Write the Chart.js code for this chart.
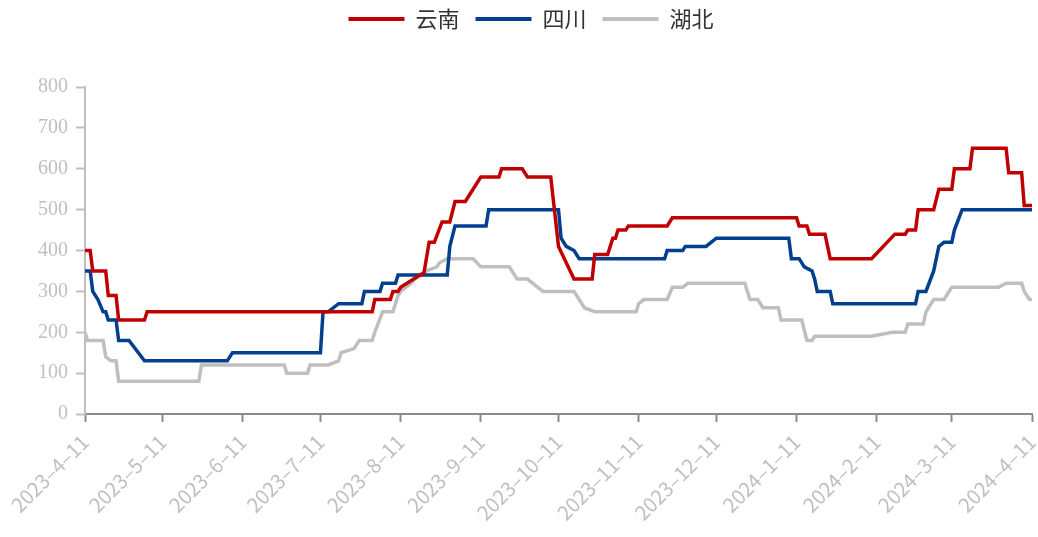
<!DOCTYPE html>
<html>
<head>
<meta charset="utf-8">
<script src="https://cdn.jsdelivr.net/npm/chart.js@4"></script>
<style>
  html, body { margin: 0; padding: 0; background: #fff; }
  #wrap { width: 1038px; height: 537px; }
</style>
</head>
<body>
<div id="wrap"><canvas id="chart"></canvas></div>
<script>
// x 轴刻度 (每月11日)
const tickDates = ['2023-04-11','2023-05-11','2023-06-11','2023-07-11','2023-08-11','2023-09-11','2023-10-11','2023-11-11','2023-12-11','2024-01-11','2024-02-11','2024-03-11','2024-04-11'];
const tickLabels = ['2023–4–11','2023–5–11','2023–6–11','2023–7–11','2023–8–11','2023–9–11','2023–10–11','2023–11–11','2023–12–11','2024–1–11','2024–2–11','2024–3–11','2024–4–11'];

// 云南
const yunnanDates = ['2023-04-11','2023-04-13','2023-04-14','2023-04-19','2023-04-20','2023-04-23','2023-04-24','2023-05-04','2023-05-05','2023-07-31','2023-08-01','2023-08-07','2023-08-08','2023-08-10','2023-08-11','2023-08-16','2023-08-20','2023-08-22','2023-08-24','2023-08-27','2023-08-30','2023-09-01','2023-09-05','2023-09-07','2023-09-11','2023-09-18','2023-09-19','2023-09-27','2023-09-29','2023-10-08','2023-10-11','2023-10-14','2023-10-17','2023-10-24','2023-10-25','2023-10-30','2023-11-01','2023-11-02','2023-11-03','2023-11-06','2023-11-07','2023-11-22','2023-11-24','2024-01-11','2024-01-12','2024-01-15','2024-01-16','2024-01-22','2024-01-24','2024-02-09','2024-02-18','2024-02-22','2024-02-23','2024-02-26','2024-02-27','2024-03-04','2024-03-06','2024-03-11','2024-03-12','2024-03-18','2024-03-19','2024-04-01','2024-04-02','2024-04-07','2024-04-08','2024-04-11'];
const yunnanValues = [400,400,350,350,290,290,230,230,250,250,280,280,300,300,310,330,345,420,420,470,470,520,520,540,580,580,600,600,580,580,410,370,330,330,390,390,430,430,450,450,460,460,480,480,460,460,440,440,380,380,440,440,450,450,500,500,550,550,600,600,650,650,590,590,510,510];

// 四川
const sichuanDates = ['2023-04-11','2023-04-13','2023-04-14','2023-04-16','2023-04-18','2023-04-19','2023-04-20','2023-04-23','2023-04-24','2023-04-28','2023-05-04','2023-06-05','2023-06-07','2023-07-11','2023-07-12','2023-07-14','2023-07-18','2023-07-27','2023-07-28','2023-08-03','2023-08-04','2023-08-09','2023-08-10','2023-08-29','2023-08-30','2023-09-01','2023-09-13','2023-09-14','2023-10-11','2023-10-12','2023-10-14','2023-10-17','2023-10-19','2023-11-21','2023-11-22','2023-11-28','2023-11-29','2023-12-07','2023-12-11','2024-01-08','2024-01-09','2024-01-12','2024-01-14','2024-01-17','2024-01-18','2024-01-19','2024-01-24','2024-01-25','2024-02-26','2024-02-27','2024-03-01','2024-03-04','2024-03-06','2024-03-08','2024-03-11','2024-03-12','2024-03-15','2024-04-11'];
const sichuanValues = [350,350,300,280,250,250,230,230,180,180,130,130,150,150,250,250,270,270,300,300,320,320,340,340,410,460,460,500,500,430,410,400,380,380,400,400,410,410,430,430,380,380,360,350,330,300,300,270,270,300,300,350,410,420,420,450,500,500];

// 湖北
const hubeiDates = ['2023-04-11','2023-04-12','2023-04-18','2023-04-19','2023-04-21','2023-04-23','2023-04-24','2023-05-25','2023-05-26','2023-06-27','2023-06-28','2023-07-06','2023-07-07','2023-07-14','2023-07-18','2023-07-19','2023-07-24','2023-07-26','2023-07-31','2023-08-01','2023-08-04','2023-08-08','2023-08-10','2023-08-11','2023-08-15','2023-08-18','2023-08-21','2023-08-25','2023-08-26','2023-08-29','2023-09-08','2023-09-11','2023-09-22','2023-09-25','2023-09-29','2023-10-03','2023-10-05','2023-10-17','2023-10-19','2023-10-21','2023-10-25','2023-11-10','2023-11-11','2023-11-13','2023-11-22','2023-11-24','2023-11-28','2023-11-30','2023-12-22','2023-12-24','2023-12-27','2023-12-29','2024-01-04','2024-01-05','2024-01-13','2024-01-15','2024-01-17','2024-01-18','2024-02-09','2024-02-17','2024-02-22','2024-02-23','2024-02-29','2024-03-01','2024-03-04','2024-03-08','2024-03-11','2024-03-29','2024-04-01','2024-04-07','2024-04-08','2024-04-10','2024-04-11'];
const hubeiValues = [200,180,180,140,130,130,80,80,120,120,100,100,120,120,130,150,160,180,180,200,250,250,290,300,320,340,350,360,370,380,380,360,360,330,330,310,300,300,280,260,250,250,270,280,280,310,310,320,320,280,280,260,260,230,230,180,180,190,190,200,200,220,220,250,280,280,310,310,320,320,300,280,280];

const startDay = Date.UTC(2023, 3, 11);
function dayOf(s) {
  const p = s.split('-').map(Number);
  return (Date.UTC(p[0], p[1] - 1, p[2]) - startDay) / 86400000;
}
function points(dates, values) {
  return dates.map((d, i) => ({ x: dayOf(d), y: values[i] }));
}
const tickDays = tickDates.map(dayOf);

// 图例高度 -> 绘图区顶部对齐
const legendSpace = {
  id: 'legendSpace',
  beforeInit(chart) {
    const fit = chart.legend.fit;
    chart.legend.fit = function () {
      fit.call(this);
      this.height = 95;
    };
  }
};

const axisGray = '#bfbfbf';

new Chart(document.getElementById('chart'), {
  type: 'line',
  data: {
    datasets: [
      { label: '云南', data: points(yunnanDates, yunnanValues), borderColor: '#c00000', backgroundColor: '#c00000' },
      { label: '四川', data: points(sichuanDates, sichuanValues), borderColor: '#033f8f', backgroundColor: '#033f8f' },
      { label: '湖北', data: points(hubeiDates, hubeiValues), borderColor: '#bfbfbf', backgroundColor: '#bfbfbf' }
    ]
  },
  options: {
    responsive: true,
    maintainAspectRatio: false,
    animation: false,
    layout: { padding: { top: -8, right: 6, left: 30, bottom: 0 } },
    elements: {
      line: { borderWidth: 3.5, tension: 0 },
      point: { radius: 0 }
    },
    plugins: {
      legend: {
        position: 'top',
        labels: {
          boxWidth: 56,
          boxHeight: 4,
          padding: 16,
          color: '#333',
          font: { family: '"Noto Sans CJK SC", sans-serif', size: 22 },
          generateLabels(chart) {
            return Chart.defaults.plugins.legend.labels.generateLabels(chart).map(l => {
              l.lineWidth = 0;
              return l;
            });
          }
        }
      },
      tooltip: { enabled: false }
    },
    scales: {
      x: {
        type: 'linear',
        min: 0,
        max: 366,
        afterBuildTicks(scale) {
          scale.ticks = tickDays.map(v => ({ value: v }));
        },
        afterFit(scale) {
          scale.height = 123;
          scale.paddingLeft = 0;
          scale.paddingRight = 0;
        },
        border: { color: '#8c8c8c', width: 2 },
        grid: { drawOnChartArea: false, drawTicks: true, tickLength: 8, color: '#8c8c8c', tickWidth: 2 },
        ticks: {
          autoSkip: false,
          maxRotation: 45,
          minRotation: 45,
          padding: 8,
          color: '#bfbfbf',
          font: { family: '"Noto Sans CJK SC", sans-serif', size: 20 },
          callback: (v, i) => tickLabels[i]
        }
      },
      y: {
        min: 0,
        max: 800,
        afterFit(scale) { scale.width = 55; },
        border: { color: axisGray, width: 2 },
        grid: { drawOnChartArea: false, drawTicks: true, tickLength: 9, color: axisGray, tickWidth: 2 },
        ticks: {
          stepSize: 100,
          padding: 8,
          color: '#bfbfbf',
          font: { family: '"Liberation Serif", serif', size: 20 }
        }
      }
    }
  },
  plugins: [legendSpace]
});
</script>
</body>
</html>
